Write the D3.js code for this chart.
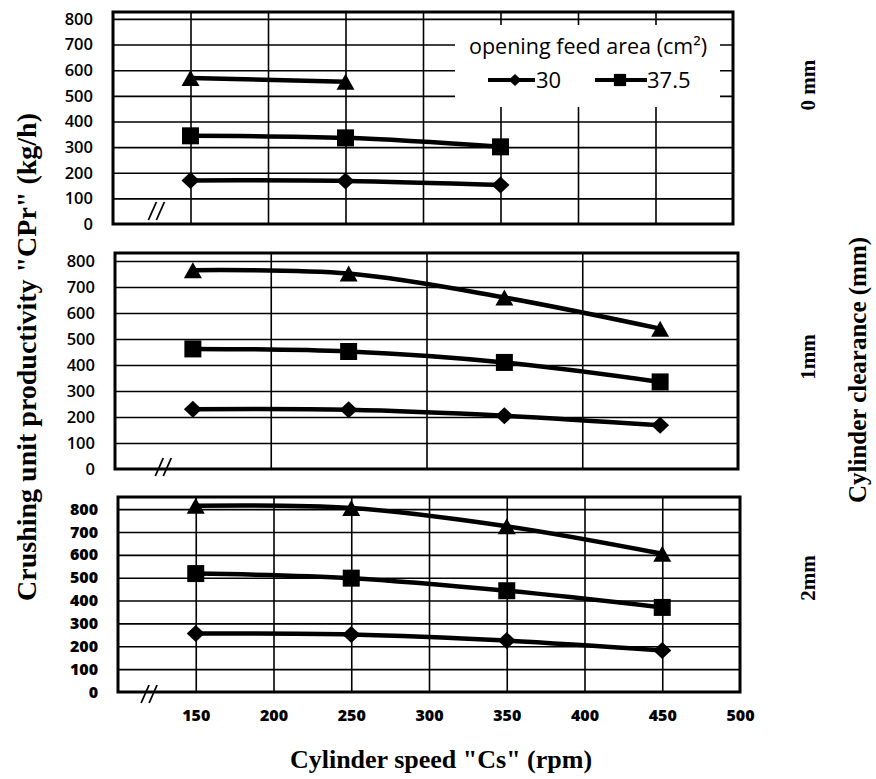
<!DOCTYPE html>
<html><head><meta charset="utf-8">
<script src="https://cdn.jsdelivr.net/npm/d3@7"></script>
<style>body{margin:0;background:#fff}svg{display:block}</style>
</head><body><svg id="c" width="876" height="779"></svg>
<script>
// ---- data ----
const speedTicks = [150, 200, 250, 300, 350, 400, 450, 500];
const yTicks = [0, 100, 200, 300, 400, 500, 600, 700, 800];
const feedAreas = ["30", "37.5", "45"];
const clearances = ["0 mm", "1mm", "2mm"];
const speeds0 = [150, 250, 350];
const speeds = [150, 250, 350, 450];
const cpr0_30  = [170, 168, 152];
const cpr0_375 = [344, 336, 301];
const cpr0_45  = [570, 555];
const cpr1_30  = [230, 228, 205, 168];
const cpr1_375 = [462, 452, 410, 335];
const cpr1_45  = [765, 752, 660, 540];
const cpr2_30  = [256, 252, 225, 182];
const cpr2_375 = [518, 498, 443, 370];
const cpr2_45  = [815, 805, 725, 605];
const legendTitle = "opening feed area (cm²)";
const xTitle = 'Cylinder speed "Cs" (rpm)';
const yTitle = 'Crushing unit productivity "CPr" (kg/h)';
const rightTitle = "Cylinder clearance (mm)";

const panelData = [
  [{area: feedAreas[0], x: speeds0, y: cpr0_30}, {area: feedAreas[1], x: speeds0, y: cpr0_375}, {area: feedAreas[2], x: speeds0.slice(0, 2), y: cpr0_45}],
  [{area: feedAreas[0], x: speeds, y: cpr1_30}, {area: feedAreas[1], x: speeds, y: cpr1_375}, {area: feedAreas[2], x: speeds, y: cpr1_45}],
  [{area: feedAreas[0], x: speeds, y: cpr2_30}, {area: feedAreas[1], x: speeds, y: cpr2_375}, {area: feedAreas[2], x: speeds, y: cpr2_45}]
];

// ---- layout ----
const layout = [
  {left: 113, right: 733, top: 12, bottom: 224, yMax: 827, vGrid: [150,200,250,300,350,400,450], labRight: 93, heavy: false, brk: [128, 211], labelY: 85},
  {left: 115, right: 738, top: 253, bottom: 469, yMax: 831, vGrid: [200,300,400], labRight: 95, heavy: false, brk: [131, 467], labelY: 357},
  {left: 118, right: 740, top: 497, bottom: 692, yMax: 853, vGrid: [150,200,250,300,350,400,450], labRight: 98, heavy: true, brk: [120, 694], labelY: 578}
];

const svg = d3.select("#c");
const sans = "'Open Sans', 'Noto Sans', sans-serif";
const serif = "'Liberation Serif', 'DejaVu Serif', serif";

function markerPath(kind, s) {
  if (kind === 0) { const w = 9 * s, h = 8.5 * s; return `M0,${-h}L${w},0L0,${h}L${-w},0Z`; }
  if (kind === 1) { const a = 8.5 * s; return `M${-a},${-a}H${a}V${a}H${-a}Z`; }
  const w = 9 * s, h = 8 * s; return `M0,${-h}L${w},${h}H${-w}Z`;
}

let xScales = [];
layout.forEach((L, pi) => {
  const x = d3.scaleLinear().domain([100, 500]).range([L.left, L.right]);
  const y = d3.scaleLinear().domain([0, L.yMax]).range([L.bottom, L.top]);
  xScales.push(x);
  const g = svg.append("g");

  // horizontal gridlines
  g.append("g").attr("transform", `translate(${L.left},0)`)
    .call(d3.axisLeft(y).tickValues(yTicks.slice(1)).tickSize(-(L.right - L.left)).tickFormat(""))
    .call(s => s.select(".domain").remove())
    .selectAll("line").attr("stroke", "#000").attr("stroke-width", 1.6);
  // vertical gridlines
  g.append("g").attr("transform", `translate(0,${L.bottom})`)
    .call(d3.axisBottom(x).tickValues(L.vGrid).tickSize(-(L.bottom - L.top)).tickFormat(""))
    .call(s => s.select(".domain").remove())
    .selectAll("line").attr("stroke", "#000").attr("stroke-width", 1.6);

  // legend box (top panel)
  if (pi === 0) {
    const lg = g.append("g");
    lg.append("rect").attr("x", 455).attr("y", 25).attr("width", 265).attr("height", 82).attr("fill", "#fff");
    lg.append("text").attr("x", 588).attr("y", 54).attr("text-anchor", "middle")
      .attr("font-family", sans).attr("font-size", 21.5).attr("font-weight", 500).attr("fill", "#000").text(legendTitle);
    const entries = [{x1: 488, x2: 535, mx: 515, tx: 536, kind: 0, label: feedAreas[0]},
                     {x1: 595, x2: 647, mx: 620, tx: 647, kind: 1, label: feedAreas[1]}];
    entries.forEach(e => {
      lg.append("line").attr("x1", e.x1).attr("x2", e.x2).attr("y1", 80).attr("y2", 80)
        .attr("stroke", "#000").attr("stroke-width", 4);
      lg.append("path").attr("d", markerPath(e.kind, 0.72)).attr("transform", `translate(${e.mx},80)`).attr("fill", "#000");
      lg.append("text").attr("x", e.tx).attr("y", 88).attr("font-family", sans).attr("font-size", 22).attr("font-weight", 500)
        .attr("fill", "#000").text(e.label);
    });
  }

  // frame
  g.append("rect").attr("x", L.left).attr("y", L.top).attr("width", L.right - L.left).attr("height", L.bottom - L.top)
    .attr("fill", "none").attr("stroke", "#000").attr("stroke-width", 3);

  // y tick labels
  g.append("g").attr("transform", `translate(${L.labRight + 3},0)`)
    .call(d3.axisLeft(y).tickValues(yTicks).tickSize(0).tickPadding(3))
    .call(s => s.select(".domain").remove())
    .selectAll("text").attr("font-family", sans).attr("font-size", L.heavy ? 16 : 16.5)
    .attr("font-weight", L.heavy ? 800 : 600).attr("fill", "#000");

  // break marks
  const bx = x(L.brk[0]), by = L.brk[1];
  [-4, 4].forEach(o => {
    g.append("line").attr("x1", bx + o - 4).attr("y1", by + 9).attr("x2", bx + o + 4).attr("y2", by - 9)
      .attr("stroke", "#000").attr("stroke-width", 1.8);
  });

  // series
  const line = d3.line().x(d => x(d[0])).y(d => y(d[1])).curve(d3.curveCatmullRom.alpha(0.5));
  panelData[pi].forEach((s, si) => {
    const pts = s.x.map((v, i) => [v, s.y[i]]);
    g.append("path").attr("d", line(pts)).attr("fill", "none").attr("stroke", "#000").attr("stroke-width", 4.5);
    g.selectAll(null).data(pts).enter().append("path")
      .attr("d", markerPath(si, 1)).attr("transform", d => `translate(${x(d[0])},${y(d[1])})`).attr("fill", "#000");
  });

  // right clearance label
  svg.append("text").attr("transform", `translate(815,${L.labelY}) rotate(-90)`).attr("text-anchor", "middle")
    .attr("font-family", serif).attr("font-weight", "bold").attr("font-size", 21).attr("fill", "#000").text(clearances[pi]);
});

// x tick labels (bottom panel scale)
svg.append("g").attr("transform", `translate(0,${layout[2].bottom + 18})`)
  .call(d3.axisBottom(xScales[2]).tickValues(speedTicks).tickSize(0).tickPadding(0))
  .call(s => s.select(".domain").remove())
  .selectAll("text").attr("font-family", sans).attr("font-size", 16).attr("font-weight", 800).attr("fill", "#000");

// titles
svg.append("text").attr("x", 441).attr("y", 768).attr("text-anchor", "middle")
  .attr("font-family", serif).attr("font-weight", "bold").attr("font-size", 26).attr("fill", "#000").text(xTitle);
svg.append("text").attr("transform", "translate(36,357) rotate(-90)").attr("text-anchor", "middle")
  .attr("font-family", serif).attr("font-weight", "bold").attr("font-size", 28).attr("fill", "#000").text(yTitle);
svg.append("text").attr("transform", "translate(866,370) rotate(-90)").attr("text-anchor", "middle")
  .attr("font-family", serif).attr("font-weight", "bold").attr("font-size", 25).attr("fill", "#000").text(rightTitle);
</script></body></html>
